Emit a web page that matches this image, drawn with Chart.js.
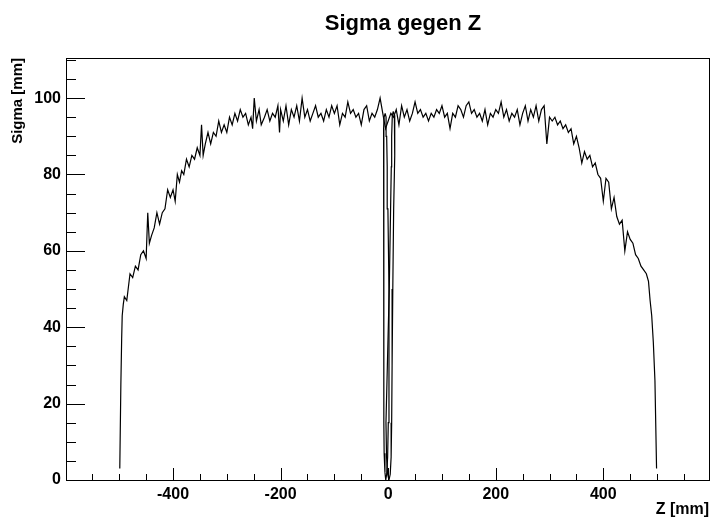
<!DOCTYPE html>
<html>
<head>
<meta charset="utf-8">
<script src="https://cdn.jsdelivr.net/npm/chart.js@4.4.1/dist/chart.umd.min.js"></script>
<style>
  body { margin: 0; background: #fff; }
  #box { width: 722px; height: 518px; }
</style>
</head>
<body>
<div id="box"><canvas id="myChart" width="722" height="518"></canvas></div>
<script>
const titleText = 'Sigma gegen Z';
const xTitle = 'Z [mm]';
const yTitle = 'Sigma [mm]';

const xTickLabels = [-400, -200, 0, 200, 400];
const yTickLabels = [0, 20, 40, 60, 80, 100];

// main curve, z in mm
const zValues = [
  -499, -497, -495.5, -494.5, -492.5, -490.5, -486, -480, -475, -470, -465, -460, -455, -450, -447, -444,
  -440, -435, -430, -425, -420, -415, -410, -405, -400, -396, -392, -388, -384, -380, -375, -370,
  -365, -360, -355, -350, -347, -344, -340, -335, -330, -325, -320, -315, -310, -305, -300, -295,
  -290, -285, -280, -275, -270, -265, -260, -255, -252, -249, -245, -240, -236, -230, -225, -220,
  -215, -210, -205, -202, -200, -195, -190, -185, -180, -175, -170, -165, -160, -155, -150, -145,
  -140, -135, -130, -125, -120, -115, -110, -105, -100, -95, -90, -85, -80, -75, -70, -65,
  -60, -55, -50, -45, -40, -35, -30, -25, -20, -15, -10, -5, 0, 5, 10, 15,
  20, 25, 30, 35, 40, 45, 50, 55, 60, 65, 70, 75, 80, 85, 90, 95,
  100, 105, 110, 115, 120, 125, 130, 135, 140, 145, 150, 155, 160, 165, 170, 175,
  180, 185, 190, 195, 200, 205, 210, 215, 220, 225, 230, 235, 240, 245, 250, 255,
  260, 265, 270, 275, 280, 285, 290, 295, 300, 305, 310, 315, 320, 325, 330, 335,
  340, 345, 350, 355, 360, 365, 370, 375, 380, 385, 390, 395, 400, 405, 410, 415,
  420, 425, 430, 435, 440, 445, 450, 455, 460, 465, 470, 475, 480, 484, 487, 490,
  493, 496, 499
];
const sigmaValues = [
  3, 25, 37, 43, 46, 48, 47, 54, 53, 56, 55, 59, 60, 58, 70, 62,
  64, 66, 70, 67, 70, 71, 76, 74, 76, 73, 80, 78, 81, 80, 84, 82,
  85, 84, 87, 85, 93, 85, 88, 91, 88, 91, 90, 94, 91, 93, 91, 95,
  93, 96, 94, 97, 95, 96, 93, 95, 92, 100, 94, 97, 93, 95, 97, 94,
  96, 95, 98, 91, 97, 94, 98, 93, 97, 95, 98, 94, 100, 95, 97, 94,
  96, 98, 95, 96, 94, 97, 95, 98, 96, 98, 93, 96, 95, 99, 96, 97,
  95, 96, 93, 97, 98, 94, 96, 95, 97, 100, 96, 92, 94, 96, 95, 97,
  93, 98, 95, 97, 94, 96, 99, 96, 97, 95, 96, 94, 96, 95, 97, 96,
  98, 95, 96, 92, 96, 95, 98, 97, 95, 98, 99, 96, 97, 95, 96, 94,
  97, 93, 96, 95, 97, 96, 99, 95, 97, 94, 96, 95, 97, 93, 96, 98,
  94, 97, 95, 98, 94, 97, 98, 88, 95, 94, 95, 93, 94, 92, 93, 91,
  92, 88, 90, 87, 83, 86, 84, 85, 82, 83, 80, 79, 73, 79, 78, 71,
  74, 69, 67, 68, 60, 65, 63, 62, 59, 58, 56, 55, 54, 52, 47, 43,
  36, 26, 3
];

// the two thin crossed loops around z = 0
const loopAZ = [-5.6, -7.6, -8.5, -8.4, -8.0, -7.8, -7.8, -8.3, -7.5, -6.0, -4.5, -2.8, -1.0, 0.2, 1.5, 1.5, -0.5, -1.8, -2.8, -3.9, -5.6];
const loopASigma = [96, 95, 92, 85, 71, 50, 30, 15, 7, 2, 0, 1.5, 6, 15, 30, 50, 71, 82, 90, 95, 96];
const loopBZ = [9.5, 11.5, 12.6, 11.8, 10.2, 8.6, 7.3, 6.5, 5.5, 3.8, 1.5, -1.0, -3.0, -4.1, -1.5, 2.0, 4.5, 5.8, 6.5, 7.7, 9.5];
const loopBSigma = [96.5, 95.5, 92, 85, 71, 50, 30, 15, 6, 1.5, 0, 1.5, 6, 15, 30, 50, 71, 82, 90, 95.5, 96.5];

function toPoints(xs, ys) {
  return xs.map((x, i) => ({ x: x, y: ys[i] }));
}

const fontFamily = '"Liberation Sans", Arial, Helvetica, sans-serif';
Chart.defaults.color = '#000';
Chart.defaults.font.family = fontFamily;

const lineStyle = {
  borderColor: '#000',
  borderWidth: 1.2,
  pointRadius: 0,
  tension: 0,
  fill: false
};

// ROOT style frame, inward ticks and title
const rootFrame = {
  id: 'rootFrame',
  afterDatasetsDraw(chart) {
    const { ctx, chartArea: a, scales: { x, y } } = chart;
    ctx.save();
    ctx.strokeStyle = '#000';
    ctx.lineWidth = 1;
    ctx.beginPath();
    for (let v = -550; v <= 550; v += 50) {
      const px = Math.round(x.getPixelForValue(v)) + 0.5;
      const len = v % 200 === 0 ? 12 : 6;
      ctx.moveTo(px, a.bottom);
      ctx.lineTo(px, a.bottom - len);
    }
    for (let v = 5; v <= 110; v += 5) {
      const py = Math.round(y.getPixelForValue(v)) + 0.5;
      const len = v % 20 === 0 ? 19 : 10;
      ctx.moveTo(a.left, py);
      ctx.lineTo(a.left + len, py);
    }
    ctx.stroke();
    ctx.strokeRect(a.left + 0.5, a.top + 0.5, a.right - a.left, a.bottom - a.top);
    ctx.restore();
  },
  afterDraw(chart) {
    const ctx = chart.ctx;
    ctx.save();
    ctx.fillStyle = '#000';
    ctx.font = 'bold 22px ' + fontFamily;
    ctx.textAlign = 'center';
    ctx.textBaseline = 'alphabetic';
    ctx.fillText(titleText, 403, 30);
    ctx.restore();
  }
};

const data = {
  datasets: [
    Object.assign({ label: 'sigma', data: toPoints(zValues, sigmaValues) }, lineStyle),
    Object.assign({ label: 'loop a', data: toPoints(loopAZ, loopASigma) }, lineStyle),
    Object.assign({ label: 'loop b', data: toPoints(loopBZ, loopBSigma) }, lineStyle)
  ]
};

const config = {
  type: 'line',
  data,
  options: {
    responsive: false,
    animation: false,
    layout: { padding: { top: 58, right: 13, left: 0, bottom: 0 } },
    plugins: {
      legend: { display: false },
      tooltip: { enabled: false }
    },
    scales: {
      x: {
        type: 'linear',
        min: -599,
        max: 596.5,
        grid: { display: false, drawTicks: false },
        border: { display: false },
        afterBuildTicks: s => { s.ticks = xTickLabels.map(v => ({ value: v })); },
        ticks: {
          autoSkip: false,
          maxRotation: 0,
          padding: 5,
          font: { size: 16, weight: 'bold' }
        },
        title: {
          display: true,
          text: xTitle,
          align: 'end',
          padding: { top: 0, bottom: 0 },
          font: { size: 16, weight: 'bold', lineHeight: 1 }
        },
        afterFit: s => { s.height = 38; }
      },
      y: {
        min: 0,
        max: 110.5,
        grid: { display: false, drawTicks: false },
        border: { display: false },
        afterBuildTicks: s => { s.ticks = yTickLabels.map(v => ({ value: v })); },
        ticks: {
          autoSkip: false,
          padding: 5,
          font: { size: 16, weight: 'bold' }
        },
        title: {
          display: true,
          text: yTitle,
          align: 'end',
          padding: { top: 9, bottom: 0 },
          font: { size: 15, weight: 'bold', lineHeight: 1.2 }
        },
        afterFit: s => { s.width = 66; }
      }
    }
  },
  plugins: [rootFrame]
};

const myChart = new Chart(document.getElementById('myChart'), config);
</script>
</body>
</html>
